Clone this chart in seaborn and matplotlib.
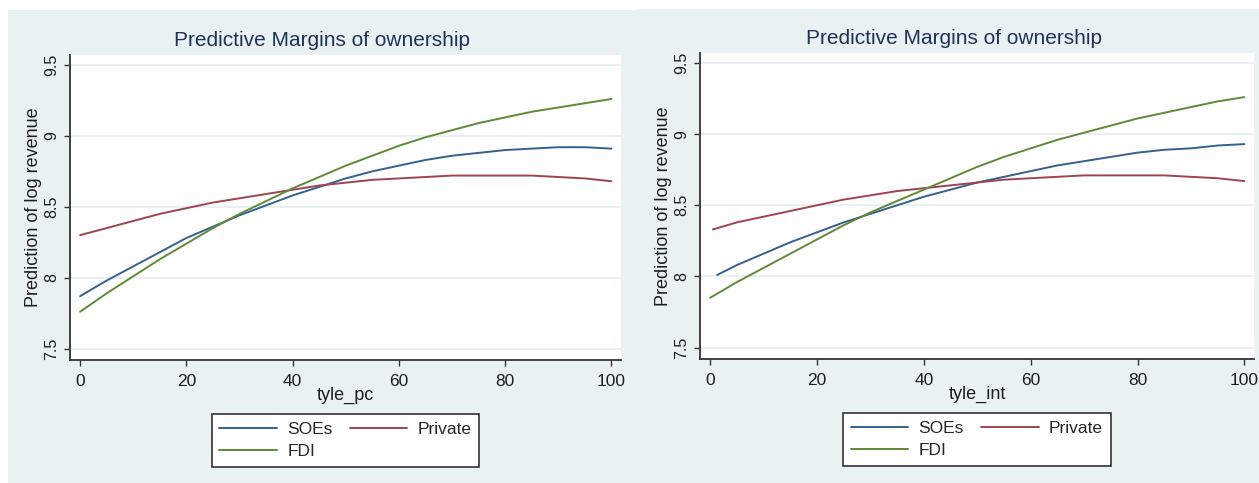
import matplotlib
matplotlib.use("Agg")
import matplotlib.pyplot as plt
from matplotlib import font_manager
from matplotlib.patches import Rectangle
import seaborn as sns
import pandas as pd

# values (every 5 units of x)
groups = ["SOEs", "Private", "FDI"]

x_pc = [0, 5, 10, 15, 20, 25, 30, 35, 40, 45, 50, 55, 60, 65, 70, 75, 80, 85, 90, 95, 100]
soe_pc = [7.87, 7.98, 8.08, 8.18, 8.28, 8.36, 8.44, 8.51, 8.58, 8.64, 8.70,
          8.75, 8.79, 8.83, 8.86, 8.88, 8.90, 8.91, 8.92, 8.92, 8.91]
private_pc = [8.30, 8.35, 8.40, 8.45, 8.49, 8.53, 8.56, 8.59, 8.62, 8.65, 8.67,
              8.69, 8.70, 8.71, 8.72, 8.72, 8.72, 8.72, 8.71, 8.70, 8.68]
fdi_pc = [7.76, 7.89, 8.01, 8.13, 8.24, 8.35, 8.45, 8.54, 8.63, 8.71, 8.79,
          8.86, 8.93, 8.99, 9.04, 9.09, 9.13, 9.17, 9.20, 9.23, 9.26]

x_int_soe = [1.3, 5, 10, 15, 20, 25, 30, 35, 40, 45, 50, 55, 60, 65, 70, 75, 80, 85, 90, 95, 100]
x_int_private = [0.5, 5, 10, 15, 20, 25, 30, 35, 40, 45, 50, 55, 60, 65, 70, 75, 80, 85, 90, 95, 100]
x_int_fdi = [0, 5, 10, 15, 20, 25, 30, 35, 40, 45, 50, 55, 60, 65, 70, 75, 80, 85, 90, 95, 100]
soe_int = [8.01, 8.08, 8.16, 8.24, 8.31, 8.38, 8.44, 8.50, 8.56, 8.61, 8.66,
           8.70, 8.74, 8.78, 8.81, 8.84, 8.87, 8.89, 8.90, 8.92, 8.93]
private_int = [8.33, 8.38, 8.42, 8.46, 8.50, 8.54, 8.57, 8.60, 8.62, 8.64, 8.66,
               8.68, 8.69, 8.70, 8.71, 8.71, 8.71, 8.71, 8.70, 8.69, 8.67]
fdi_int = [7.85, 7.96, 8.06, 8.16, 8.26, 8.36, 8.45, 8.53, 8.61, 8.69, 8.77,
           8.84, 8.90, 8.96, 9.01, 9.06, 9.11, 9.15, 9.19, 9.23, 9.26]

y_ticks = [7.5, 8, 8.5, 9, 9.5]
y_ticklabels = ["7.5", "8", "8.5", "9", "9.5"]
x_ticks = [0, 20, 40, 60, 80, 100]

palette = {"SOEs": "#35618C", "Private": "#9E4450", "FDI": "#5F8A37"}
bg = "#EAF1F3"


def long_df(xs, ys):
    rows = []
    for g, xv, yv in zip(groups, xs, ys):
        for a, b in zip(xv, yv):
            rows.append({"x": a, "y": b, "group": g})
    return pd.DataFrame(rows)


sns.set_style("white")
names = {f.name for f in font_manager.fontManager.ttflist}
narrow = "Liberation Sans Narrow" if "Liberation Sans Narrow" in names else "Liberation Sans"
plt.rcParams["font.family"] = [narrow, "DejaVu Sans"]

W, H = 1259, 483
fig = plt.figure(figsize=(W / 100, H / 100), dpi=100, facecolor="white")

# grey-blue outer regions of the two graphs
fig.patches.append(Rectangle((8 / W, 0), 630 / W, 1 - 10 / H, transform=fig.transFigure,
                             facecolor=bg, edgecolor="none", zorder=-10))
fig.patches.append(Rectangle((638 / W, 0), 621 / W, 1 - 9 / H, transform=fig.transFigure,
                             facecolor=bg, edgecolor="none", zorder=-10))

panels = [
    dict(rect=[70 / W, 1 - 360 / H, 551 / W, 305 / H], title_x=322, title_y=41,
         xlabel="tyle_pc", df=long_df([x_pc, x_pc, x_pc], [soe_pc, private_pc, fdi_pc])),
    dict(rect=[700 / W, 1 - 359 / H, 554 / W, 306 / H], title_x=954, title_y=39,
         xlabel="tyle_int", df=long_df([x_int_soe, x_int_private, x_int_fdi],
                                       [soe_int, private_int, fdi_int])),
]

for p in panels:
    ax = fig.add_axes(p["rect"])
    ax.set_facecolor("white")
    for y in y_ticks:
        ax.axhline(y, color="#E4EDF0", lw=1.2, zorder=0)
    sns.lineplot(data=p["df"], x="x", y="y", hue="group", hue_order=groups,
                 palette=palette, lw=1.4, ax=ax, legend=False, sort=True)
    ax.set_xlim(-1.9, 101.8)
    ax.set_ylim(7.42, 9.57)
    ax.set_xticks(x_ticks)
    ax.set_xticklabels([str(t) for t in x_ticks], fontsize=12.5, color="#1E1E1E")
    ax.set_yticks(y_ticks)
    ax.set_yticklabels(y_ticklabels, rotation=90, va="center", fontsize=11.5,
                       family="Liberation Sans", color="#1E1E1E")
    ax.tick_params(axis="both", direction="out", length=4, width=1, color="#333333",
                   bottom=True, left=True)
    ax.tick_params(axis="x", pad=6)
    ax.tick_params(axis="y", pad=4)
    for s in ["top", "right"]:
        ax.spines[s].set_visible(False)
    for s in ["left", "bottom"]:
        ax.spines[s].set_color("#333333")
        ax.spines[s].set_linewidth(1.3)
    ax.set_xlabel(p["xlabel"], fontsize=13, color="#1E1E1E", va="center")
    ax.xaxis.set_label_coords(0.5, -0.115)
    ax.set_ylabel("Prediction of log revenue", fontsize=13, family="Liberation Sans",
                  color="#1E1E1E", va="center")
    ax.yaxis.set_label_coords(-0.066, 0.5)
    fig.text(p["title_x"] / W, 1 - p["title_y"] / H, "Predictive Margins of ownership",
             ha="center", va="center", fontsize=15, color="#1F3358")

    handles = [plt.Line2D([], [], color=palette[g], lw=1.4) for g in ["SOEs", "FDI", "Private"]]
    leg = ax.legend(handles, ["SOEs", "FDI", "Private"], ncol=2, loc="upper center",
                    bbox_to_anchor=(0.5, -0.177), borderaxespad=0, frameon=True,
                    fancybox=False, edgecolor="#333333", framealpha=1, fontsize=12.5,
                    handlelength=3.3, handletextpad=0.6, columnspacing=1.0,
                    borderpad=0.45, labelspacing=0.4)
    leg.get_frame().set_linewidth(1.2)

fig.savefig("out.png", dpi=100, facecolor="white")
